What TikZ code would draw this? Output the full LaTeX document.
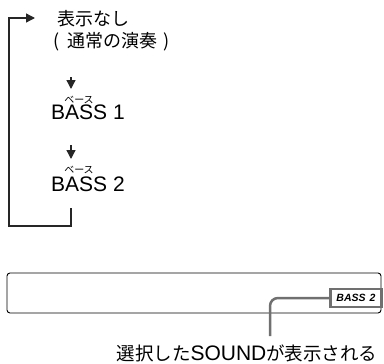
\documentclass[tikz,border=0pt]{standalone}
\usepackage{fontspec}
\setmainfont{Liberation Sans}
\newfontfamily\jpfont{Noto Sans CJK JP}
\usetikzlibrary{arrows.meta,positioning}

\definecolor{leadgray}{RGB}{112,112,112}

\tikzset{
  flowline/.style={line width=1.3pt, draw=black!85},
  tip/.style={flowline, -{Triangle[length=9pt,width=9pt]}},
  jptext/.style={inner sep=0pt, anchor=west, font=\jpfont\fontsize{18}{18}\selectfont},
  basstext/.style={inner sep=0pt, anchor=base west, font=\fontsize{21}{21}\selectfont},
  rubytext/.style={inner sep=0pt, font=\jpfont\fontsize{10}{10}\selectfont}
}

\begin{document}
\begin{tikzpicture}[x=1pt,y=-1pt]
        \useasboundingbox (0,0) rectangle (384,364);

        % Display sequence
        \node[jptext] (none) at (57,19) {表示なし};
        \node[jptext] (normal) at (53,42) {(\hspace{8pt}通常の演奏\hspace{6pt})};
        \node[basstext] (bassone) at (51,120) {BASS 1};
        \node[rubytext] (rubyone) at (79,99.5) {ベース};
        \node[basstext] (basstwo) at (51,192) {BASS 2};
        \node[rubytext] (rubytwo) at (79,170) {ベース};

        % Arrows between the steps
        \coordinate (aonestart) at (71,77);
        \coordinate (aoneend) at (71,89);
        \coordinate (atwostart) at (71,145);
        \coordinate (atwoend) at (71,159);
        \draw[tip] (aonestart) -- (aoneend);
        \draw[tip] (atwostart) -- (atwoend);

        % Loop back to the top
        \coordinate (loopstart) at (71,208);
        \coordinate (loopend) at (35,18);
        \draw[tip] (loopstart) -- (71,226) -- (9,226) -- (9,18) -- (loopend);

        % Display window
        \draw[line width=0.9pt, rounded corners=3pt] (7,273) rectangle (381,313);
        \node[draw=leadgray, line width=2.5pt, minimum width=51pt, minimum height=18pt,
              inner sep=0pt, font=\bfseries\itshape\fontsize{10.5}{10.5}\selectfont]
              (window) at (356,298) {BASS\hspace{4pt}2};

        % Leader to the caption
        \node[inner sep=0pt, font=\jpfont\fontsize{18.5}{18.5}\selectfont] (caption) at (247,353)
              {選択した{\fontspec{Liberation Sans}\fontsize{21}{21}\selectfont SOUND}が表示される};
        \coordinate (leadend) at (270,336);
        \draw[draw=leadgray, line width=2.5pt, rounded corners=8pt] (window.west) -- (270,298) -- (leadend);
    \end{tikzpicture}
\end{document}
